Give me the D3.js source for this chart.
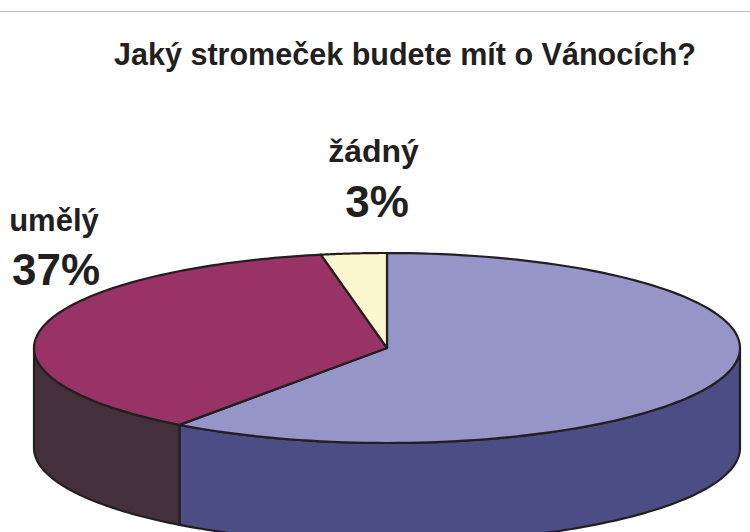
<!DOCTYPE html>
<html lang="cs">
<head>
    <meta charset="UTF-8" />
    <title>Jaký stromeček budete mít o Vánocích?</title>
    <script src="https://cdn.jsdelivr.net/npm/d3@7"></script>
    <style>
        html, body { margin: 0; padding: 0; background: white; overflow: hidden; }
        svg { display: block; }
        text { font-family: "Liberation Sans", Arial, sans-serif; font-weight: bold; fill: #231f20; }
    </style>
</head>
<body>
    <svg id="svg" width="750" height="532"></svg>
    <script>
        const titleText = "Jaký stromeček budete mít o Vánocích?";
        const categories = ["přírodní", "žádný", "umělý"];
        const values = [60, 3, 37];
        const labelNames = ["", "žádný", "umělý"];
        const labelValues = ["", "3%", "37%"];
        const topColors = ["#9595c8", "#fcf7cf", "#993366"];
        const wallColors = ["#4d4d85", "#fcf7cf", "#43303a"];

        const width = 750, height = 532;
        const cx = 387, cy = 348, rx = 353, ry = 95, depth = 100;

        const svg = d3.select("#svg");

        // line at the top of the page
        svg.append("line")
            .attr("x1", 0).attr("x2", width)
            .attr("y1", 11.5).attr("y2", 11.5)
            .attr("stroke", "#bdbdbd")
            .attr("stroke-width", 1.2);

        // slices run clockwise from 12 o'clock: blue, then maroon, then the small yellow one
        const order = [0, 2, 1];
        const pie = d3.pie().sort(null).value(i => values[i]);
        const slices = pie(order);

        const xScale = d3.scaleLinear().domain([-1, 1]).range([cx - rx, cx + rx]);
        const yScale = d3.scaleLinear().domain([-1, 1]).range([cy - ry, cy + ry]);
        const rimX = a => xScale(Math.sin(a));
        const rimY = a => yScale(-Math.cos(a));

        const line = d3.line();

        function rimPoints(a0, a1, dy) {
            const n = 120;
            return d3.range(n + 1).map(i => {
                const a = a0 + (a1 - a0) * i / n;
                return [rimX(a), rimY(a) + dy];
            });
        }

        // side walls: only the front half of the ellipse shows
        const walls = svg.append("g");
        slices.forEach(s => {
            const a0 = Math.max(s.startAngle, Math.PI / 2);
            const a1 = Math.min(s.endAngle, Math.PI * 1.5);
            if (a1 <= a0) return;
            const pts = rimPoints(a0, a1, 0).concat(rimPoints(a1, a0, depth));
            walls.append("path")
                .attr("d", line(pts) + "Z")
                .attr("fill", wallColors[s.data])
                .attr("stroke", "#231f20")
                .attr("stroke-width", 2.2)
                .attr("stroke-linejoin", "round");
        });

        // top of the pie
        const pieTop = svg.append("g");
        slices.forEach(s => {
            const pts = [[cx, cy]].concat(rimPoints(s.startAngle, s.endAngle, 0));
            pieTop.append("path")
                .attr("d", line(pts) + "Z")
                .attr("fill", topColors[s.data])
                .attr("stroke", "#231f20")
                .attr("stroke-width", 2.2)
                .attr("stroke-linejoin", "round");
        });

        // title is squeezed a little in the original
        svg.append("text")
            .attr("x", 114).attr("y", 65)
            .attr("textLength", 582)
            .attr("lengthAdjust", "spacingAndGlyphs")
            .style("font-size", "31px")
            .text(titleText);

        // labels
        const nameX = [0, 373.5, 54];
        const valueX = [0, 377, 56];
        const nameY = [0, 162, 231];
        const valueY = [0, 217, 285];
        const nameSize = [0, 32, 31];
        [1, 2].forEach(i => {
            svg.append("text")
                .attr("x", nameX[i]).attr("y", nameY[i])
                .attr("text-anchor", "middle")
                .style("font-size", nameSize[i] + "px")
                .text(labelNames[i]);
            svg.append("text")
                .attr("x", valueX[i]).attr("y", valueY[i])
                .attr("text-anchor", "middle")
                .style("font-size", "44px")
                .text(labelValues[i]);
        });
    </script>
</body>
</html>
